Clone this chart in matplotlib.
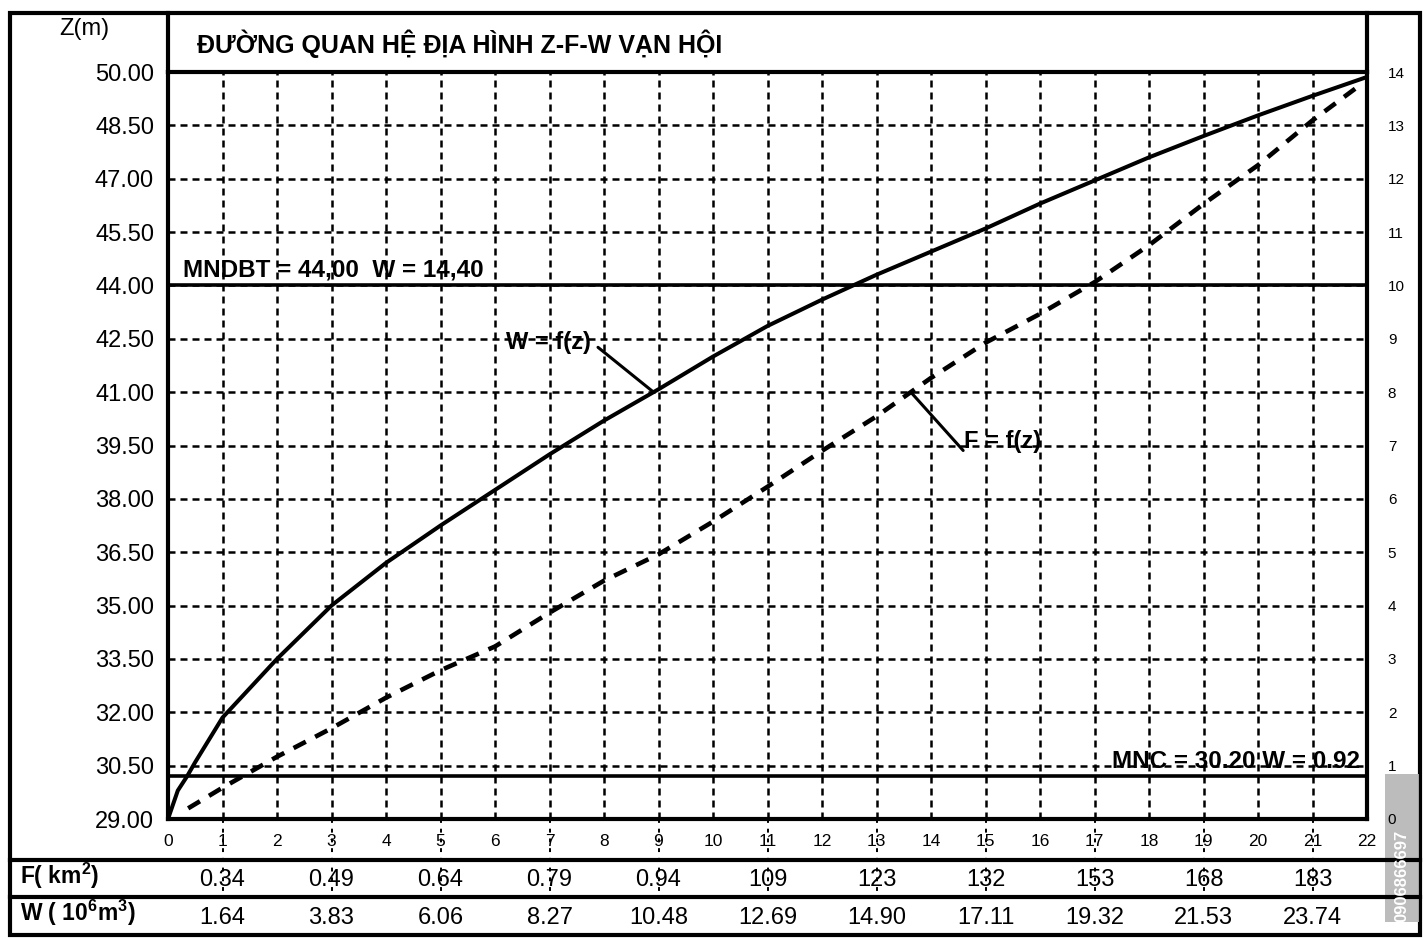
import numpy as np
import matplotlib
matplotlib.use("Agg")
import matplotlib.pyplot as plt
import matplotlib.transforms as mtransforms
from matplotlib.patches import Rectangle
from matplotlib.lines import Line2D

plt.rcParams['font.family'] = ['Liberation Sans', 'DejaVu Sans']
plt.rcParams['mathtext.fontset'] = 'custom'
plt.rcParams['mathtext.rm'] = 'Liberation Sans'
plt.rcParams['mathtext.bf'] = 'Liberation Sans:bold'
plt.rcParams['mathtext.default'] = 'regular'

# ---------------- data ----------------
title = "ĐƯỜNG QUAN HỆ ĐỊA HÌNH Z-F-W VẠN HỘI"
z_ticks = [29.00, 30.50, 32.00, 33.50, 35.00, 36.50, 38.00, 39.50,
           41.00, 42.50, 44.00, 45.50, 47.00, 48.50, 50.00]
x_ticks = list(range(0, 23))
right_ticks = list(range(0, 15))

# W = f(z) curve (solid)
w_x = [0.0, 0.18, 0.35, 0.5, 1, 2, 3, 4, 5, 6, 7, 8, 9, 10, 11, 12, 13,
       14, 15, 16, 17, 18, 19, 20, 21, 22]
w_z = [29.0, 29.8, 30.2, 30.6, 31.85, 33.5, 35.0, 36.2, 37.25, 38.25, 39.25,
       40.2, 41.08, 42.0, 42.86, 43.6, 44.3, 44.95, 45.6, 46.3, 46.95, 47.6,
       48.2, 48.78, 49.33, 49.86]

# F = f(z) curve (dashed)
f_x = [0.37, 1, 2, 3, 4, 5, 6, 7, 8, 9, 10, 11, 12, 13, 14, 15, 16, 17,
       18, 19, 20, 21, 21.8]
f_z = [29.3, 29.88, 30.75, 31.55, 32.41, 33.18, 33.85, 34.8, 35.7, 36.44,
       37.36, 38.34, 39.35, 40.32, 41.4, 42.39, 43.2, 44.09, 45.13, 46.29,
       47.38, 48.64, 49.55]

table_x = [1, 3, 5, 7, 9, 11, 13, 15, 17, 19, 21]
f_row = ["0.34", "0.49", "0.64", "0.79", "0.94", "109", "123", "132", "153", "168", "183"]
w_row = ["1.64", "3.83", "6.06", "8.27", "10.48", "12.69", "14.90", "17.11", "19.32", "21.53", "23.74"]

mndbt_z = 44.00
mnc_z = 30.20
mndbt_label = "MNDBT = 44,00  W = 14,40"
mnc_label = "MNC = 30.20 W = 0.92"
watermark = "0906866697"

# ---------------- layout ----------------
FW, FH = 1428, 940
def fx(px):
    return px / FW
def fy(py):
    return 1 - py / FH

fig = plt.figure(figsize=(FW / 100, FH / 100), dpi=100)
fig.patch.set_facecolor('white')

L, R, T, B = 168, 1367, 72, 819

# frame overlay (drawn underneath the chart axes)
ov = fig.add_axes([0, 0, 1, 1])
ov.set_zorder(-1)
ov.set_xlim(0, FW)
ov.set_ylim(FH, 0)
ov.axis('off')
ov.patch.set_alpha(0)
ov.add_patch(Rectangle((10, 13), 1410, 922, fill=False, lw=3, ec='black'))
ov.plot([L, L], [13, T], color='black', lw=3, solid_capstyle='projecting')
ov.plot([R, R], [13, T], color='black', lw=3, solid_capstyle='projecting')
ov.plot([10, 1420], [860, 860], color='black', lw=3)
ov.plot([10, 1420], [897, 897], color='black', lw=3)
ov.add_patch(Rectangle((1385, 774), 34, 148, color='#b5b5b5', alpha=0.9, lw=0))
ov.text(1402, 876, watermark, rotation=90, color='white', fontsize=12,
        fontweight='bold', ha='center', va='center')

ax = fig.add_axes([fx(L), fy(B), (R - L) / FW, (B - T) / FH])
ax.set_xlim(0, 22)
ax.set_ylim(29, 50)
for s in ax.spines.values():
    s.set_linewidth(3)

ax.set_yticks(z_ticks)
ax.set_yticklabels([f"{v:.2f}" for v in z_ticks], fontsize=17)
ax.tick_params(axis='y', length=0, pad=10)
ax.set_xticks(x_ticks)
ax.set_xticklabels([str(v) for v in x_ticks], fontsize=12.5)
ax.tick_params(axis='x', length=0, pad=11)

grid_ls = (0, (2.8, 2.0))
for v in z_ticks[1:-1]:
    ax.axhline(v, color='black', lw=1.8, ls=grid_ls, zorder=1)
for v in x_ticks[1:-1]:
    ax.axvline(v, color='black', lw=1.8, ls=grid_ls, zorder=1)

ax.axhline(mndbt_z, color='black', lw=2.6, zorder=2)
ax.axhline(mnc_z, color='black', lw=2.6, zorder=2)

ax.plot(w_x, w_z, color='black', lw=2.9, solid_capstyle='round',
        solid_joinstyle='round', zorder=3)
ax.plot(f_x, f_z, color='black', lw=3.3, ls=(0, (3.0, 2.3)), zorder=3)

# annotations
ax.text(0.28, mndbt_z + 0.1, mndbt_label, fontsize=17.5, fontweight='bold',
        ha='left', va='bottom', zorder=4)
ax.text(21.87, mnc_z + 0.1, mnc_label, fontsize=17.5, fontweight='bold',
        ha='right', va='bottom', zorder=4)

w_target = (float(np.interp(41.0, w_z, w_x)), 41.0)
ax.annotate("", xy=w_target, xytext=(7.89, 42.26),
            arrowprops=dict(arrowstyle='-', lw=2.2, color='black', shrinkA=0, shrinkB=0))
ax.text(7.76, 42.4, "W = f(z)", fontsize=17, fontweight='bold', ha='right', va='center')

f_target = (float(np.interp(41.0, f_z, f_x)), 41.0)
ax.annotate("", xy=f_target, xytext=(14.59, 39.36),
            arrowprops=dict(arrowstyle='-', lw=2.2, color='black', shrinkA=0, shrinkB=0))
ax.text(14.6, 39.6, "F = f(z)", fontsize=17, fontweight='bold', ha='left', va='center')

# right axis
ax2 = ax.twinx()
ax2.set_ylim(0, 14)
ax2.set_yticks(right_ticks)
ax2.set_yticklabels([str(v) for v in right_ticks], fontsize=11)
ax2.tick_params(axis='y', length=0, pad=15)
for s in ax2.spines.values():
    s.set_visible(False)

# table below
trans = mtransforms.blended_transform_factory(ax.transData, fig.transFigure)
for xv, fv, wv in zip(table_x, f_row, w_row):
    ax.text(xv, fy(880), fv, transform=trans, ha='center', va='center', fontsize=17)
    ax.text(xv, fy(918), wv, transform=trans, ha='center', va='center', fontsize=17)
    ax.add_line(Line2D([xv, xv], [fy(B), fy(897)], transform=trans, color='black',
                       lw=1.4, ls=(0, (2, 3)), clip_on=False))

fig.text(fx(20), fy(876), "F( km$^2$)", fontsize=16.5, fontweight='bold', ha='left', va='center')
fig.text(fx(20), fy(913), "W ( 10$^6$m$^3$)", fontsize=16.5, fontweight='bold', ha='left', va='center')

fig.text(fx(84), fy(29), "Z(m)", fontsize=17, ha='center', va='center')
fig.text(fx(197), fy(44), title, fontsize=18, fontweight='bold', ha='left', va='center')

fig.savefig("out.png", dpi=100)
